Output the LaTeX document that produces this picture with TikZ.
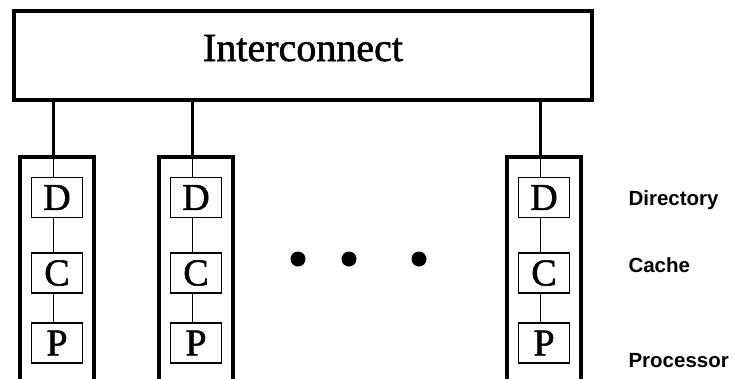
\documentclass[tikz,border=0pt]{standalone}
\usepackage{fontspec}
\setmainfont{Liberation Serif}[FakeBold=1.4]
\newfontfamily\legendfont{Liberation Sans}
\usetikzlibrary{positioning}

\begin{document}
\begin{tikzpicture}[x=1pt,y=-1pt,
  bus node/.style={draw,line width=3.6pt,minimum width=578pt,minimum height=89pt,
    inner sep=0pt,text height=26pt,text depth=15pt,font=\fontsize{40}{40}\selectfont},
  column node/.style={draw,line width=3.6pt,minimum width=74pt,minimum height=250pt,anchor=north},
  unit node/.style={draw,line width=1.2pt,minimum width=51pt,minimum height=40pt,
    inner sep=0pt,font=\fontsize{38}{38}\selectfont},
  link/.style={line width=3.6pt},
  wire/.style={line width=1pt},
  legend/.style={anchor=west,font=\legendfont\bfseries\fontsize{20.5}{21}\selectfont},
  dot/.style={circle,fill,inner sep=0pt,minimum size=15pt}]

  \useasboundingbox (0,0) rectangle (734,378);
  \clip (0,0) rectangle (734,378);

  \node[bus node] (net) at (303,55.5) {Interconnect};

  % one column per processing node
  \foreach \i/\x in {1/57, 2/196, 3/544} {
    \node[column node] (col\i) at (\x,155) {};
    \node[unit node] (dir\i) at (\x,197.5) {D};
    \node[unit node] (cache\i) at (\x,273) {C};
    \node[unit node] (proc\i) at (\x,343) {P};

    \draw[link] ([xshift=-3.5pt]col\i.north |- net.south) -- ([xshift=-3.5pt]col\i.north);
    \draw[wire] ([xshift=-3.5pt]col\i.north) -- ([xshift=-3.5pt]dir\i.north);
    \draw[wire] ([xshift=-3.5pt]dir\i.south) -- ([xshift=-3.5pt]cache\i.north);
    \draw[wire] ([xshift=-3.5pt]cache\i.south) -- ([xshift=-3.5pt]proc\i.north);
  }

  \node[dot] (dot1) at (298,259) {};
  \node[dot] (dot2) at (349,259) {};
  \node[dot] (dot3) at (419,259) {};

  \node[legend] (ldir) at (625,200) {Directory};
  \node[legend] (lcache) at (625,265) {Cache};
  \node[legend] (lproc) at (625,361) {Processor};

\end{tikzpicture}
\end{document}
